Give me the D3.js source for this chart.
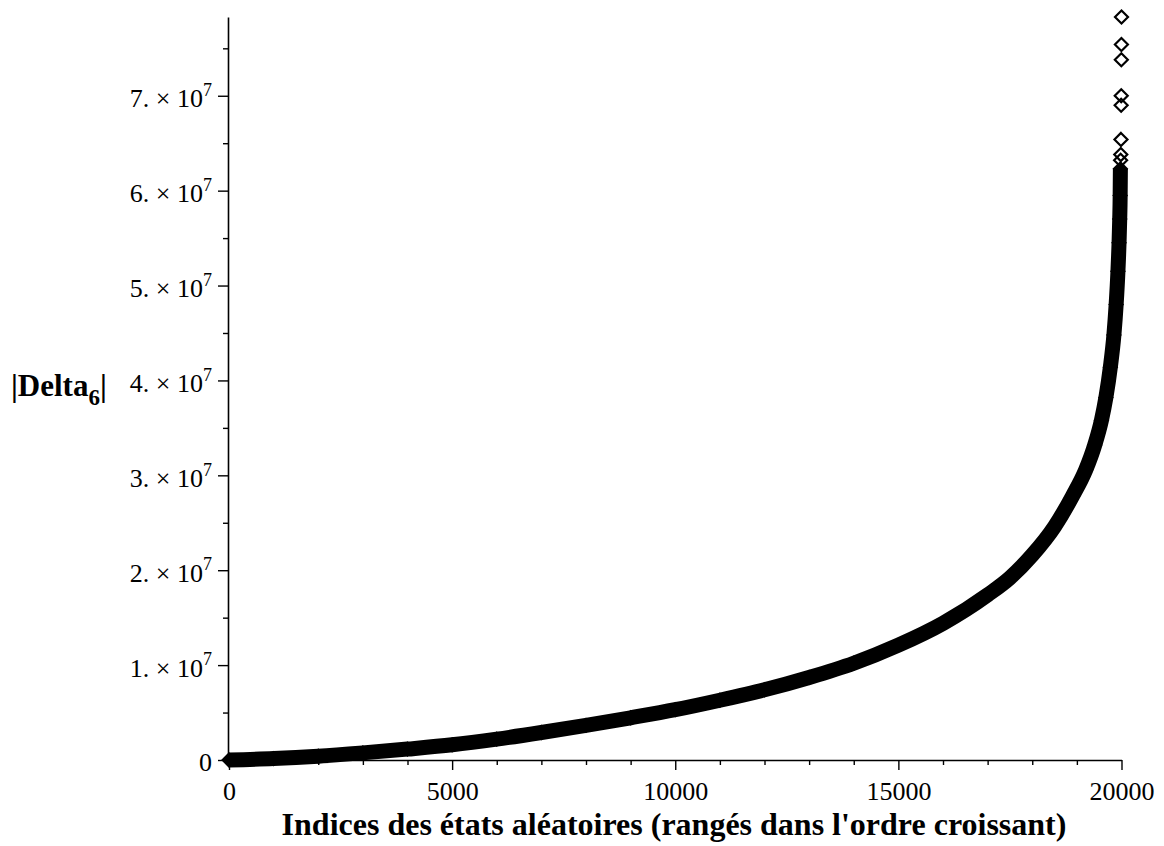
<!DOCTYPE html>
<html lang="fr">
<head>
    <meta charset="utf-8">
    <style>
        body {
          margin: 0;
          background: #fff;
        }
        svg text {
          font-family: "Liberation Serif", "Times New Roman", serif;
          fill: #000;
        }
    </style>
</head>
<body>

<svg width="1164" height="846"></svg>

<script src="https://cdn.jsdelivr.net/npm/d3@7"></script>
<script>
/*eslint no-undef: 0*/

// indices of the sorted random states (sampled along the dense band)
var bandIndex = [0, 1000, 2000, 3000, 4000, 5000, 6000, 7000, 8000, 9000,
  10000, 11000, 12000, 13000, 14000, 15000, 16000, 17000, 17500, 18000,
  18500, 18900, 19200, 19400, 19550, 19650, 19750, 19830, 19880, 19920,
  19945, 19960, 19970, 19975]
// |Delta_6|
var bandValue = [0, 0.15e6, 0.4e6, 0.75e6, 1.15e6, 1.6e6, 2.2e6, 2.9e6,
  3.65e6, 4.45e6, 5.3e6, 6.3e6, 7.4e6, 8.7e6, 10.2e6, 12.1e6, 14.4e6, 17.4e6,
  19.2e6, 21.6e6, 24.6e6, 27.8e6, 30.6e6, 33.2e6, 35.8e6, 38.2e6, 41.4e6,
  44.8e6, 48.0e6, 51.5e6, 54.5e6, 57.0e6, 59.5e6, 62.3e6]

// the last few isolated points at the very top
var topIndex = [19980, 19984, 19988, 19992, 19994, 19996, 19998, 20000]
var topValue = [63.2e6, 63.8e6, 65.4e6, 69.0e6, 70.0e6, 73.8e6, 75.4e6, 78.3e6]

var xMajor = [0, 5000, 10000, 15000, 20000]
var yMajor = [0, 1e7, 2e7, 3e7, 4e7, 5e7, 6e7, 7e7]

var xTitle = "Indices des états aléatoires (rangés dans l'ordre croissant)"

var svg = d3.select('svg')

var x = d3.scaleLinear().domain([0, 20000]).range([229, 1121.5])
var y = d3.scaleLinear().domain([0, 7.83e7]).range([760, 17])

var xMinor = d3.range(0, 20001, 1000).filter(function (d) { return d % 5000 !== 0 })
var yMinor = d3.range(0.5e7, 7.6e7, 1e7)

// axes
var gx = svg.append('g').attr('transform', 'translate(0,760)')
var gxMajor = gx.append('g')
  .call(d3.axisBottom(x).tickValues(xMajor).tickSize(10).tickPadding(12)
    .tickFormat(d3.format('d')).tickSizeOuter(0))
gx.append('g')
  .call(d3.axisBottom(x).tickValues(xMinor).tickSize(5)
    .tickFormat('').tickSizeOuter(0))
  .select('.domain').remove()

var gy = svg.append('g').attr('transform', 'translate(228,0)')
var gyMajor = gy.append('g')
  .call(d3.axisLeft(y).tickValues(yMajor).tickSize(10).tickPadding(6)
    .tickSizeOuter(0).tickFormat(''))
gy.append('g')
  .call(d3.axisLeft(y).tickValues(yMinor).tickSize(5)
    .tickFormat('').tickSizeOuter(0))
  .select('.domain').remove()

svg.selectAll('.domain').attr('stroke', '#000').attr('stroke-width', 1.6)
svg.selectAll('.tick line').attr('stroke', '#000').attr('stroke-width', 1.4)

svg.selectAll('g').attr('font-family', null).attr('font-size', null)
gxMajor.selectAll('.tick text').attr('font-size', 26).attr('fill', '#000')

// y tick labels in Maple style: "7. × 10^7"
gyMajor.selectAll('.tick text').each(function (d) {
  var t = d3.select(this)
  t.attr('font-size', 26).attr('fill', '#000').attr('dy', '0.42em')
  if (d === 0) {
    t.text('0')
    return
  }
  t.append('tspan').text((d / 1e7) + '. \u00d7 10')
  t.append('tspan').attr('font-size', 18).attr('dy', '-0.62em').text('7')
})

// dense band of diamonds: the markers plus a stroke joining them
var diamond = 'M0,-6.5L6.5,0L0,6.5L-6.5,0Z'
var band = bandIndex.map(function (d, i) { return [d, bandValue[i]] })
var tops = topIndex.map(function (d, i) { return [d, topValue[i]] })

var plot = svg.append('g')

plot.selectAll('path.band-pt')
  .data(band)
  .enter().append('path')
    .attr('class', 'band-pt')
    .attr('d', diamond)
    .attr('transform', function (d) { return 'translate(' + x(d[0]) + ',' + y(d[1]) + ')' })
    .attr('fill', '#000')
    .attr('stroke', '#000')
    .attr('stroke-width', 2)

plot.append('path')
  .datum(band)
  .attr('fill', 'none')
  .attr('stroke', '#000')
  .attr('stroke-width', 15)
  .attr('stroke-linecap', 'butt')
  .attr('d', d3.line()
    .x(function (d) { return x(d[0]) })
    .y(function (d) { return y(d[1]) })
    .curve(d3.curveMonotoneX))

plot.selectAll('path.top-pt')
  .data(tops)
  .enter().append('path')
    .attr('class', 'top-pt')
    .attr('d', diamond)
    .attr('transform', function (d) { return 'translate(' + x(d[0]) + ',' + y(d[1]) + ')' })
    .attr('fill', 'none')
    .attr('stroke', '#000')
    .attr('stroke-width', 2.2)

// titles
svg.append('text')
  .attr('x', 674)
  .attr('y', 835)
  .attr('text-anchor', 'middle')
  .attr('font-size', 32)
  .attr('font-weight', 'bold')
  .text(xTitle)

var yt = svg.append('text')
  .attr('x', 11)
  .attr('y', 396)
  .attr('font-size', 31)
  .attr('font-weight', 'bold')
yt.append('tspan').text('|Delta')
yt.append('tspan').attr('font-size', 23).attr('dy', 9).text('6')
yt.append('tspan').attr('dy', -9).text('|')
</script>

</body>
</html>
